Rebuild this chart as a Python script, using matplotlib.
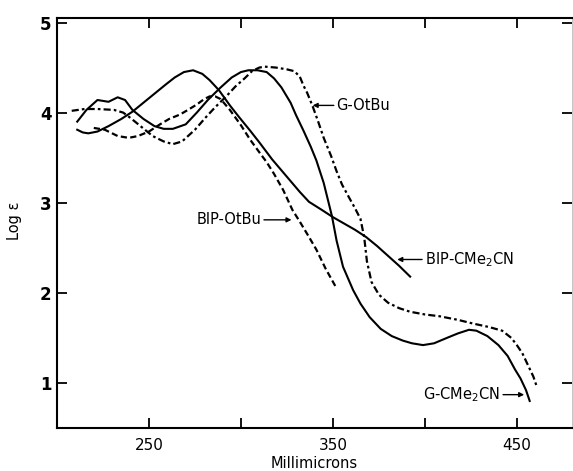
import matplotlib
matplotlib.use("Agg")
import matplotlib.pyplot as plt

# Absorption spectra: wavelength (millimicrons) vs log epsilon
g_otbu_wl = [208, 215, 222, 231, 236, 240, 246, 252, 258, 263, 268, 275, 281, 286,
             292, 297, 302, 306, 310, 313, 319, 325, 329, 332, 334, 336, 339, 342,
             345, 349, 352, 355, 359, 362, 365, 367, 368.5, 371, 375, 380, 386, 392,
             400, 408, 418, 426, 435, 442, 447, 450, 453, 456, 459, 461]
g_otbu_loge = [4.02, 4.04, 4.04, 4.03, 4.00, 3.94, 3.84, 3.74, 3.68, 3.65, 3.68, 3.81,
               3.95, 4.06, 4.18, 4.29, 4.38, 4.46, 4.50, 4.51, 4.50, 4.48, 4.46, 4.40,
               4.30, 4.22, 4.07, 3.90, 3.72, 3.52, 3.35, 3.20, 3.05, 2.94, 2.82, 2.62,
               2.35, 2.12, 1.98, 1.89, 1.83, 1.79, 1.76, 1.74, 1.70, 1.66, 1.62, 1.58,
               1.50, 1.42, 1.33, 1.20, 1.07, 0.95]

g_cme2cn_wl = [211, 216, 222, 228, 233, 237, 241, 247, 253, 258, 263, 270, 276, 282,
               289, 295, 300, 304, 309, 314, 318, 322, 327, 330, 334, 338, 341, 345,
               349.5, 352, 355.5, 361, 365, 370, 376, 382, 388, 393, 399, 405, 412, 418,
               424, 428, 434, 440, 445, 449, 452, 455, 457]
g_cme2cn_loge = [3.90, 4.03, 4.14, 4.12, 4.17, 4.14, 4.03, 3.93, 3.85, 3.82, 3.82, 3.87,
                 4.00, 4.14, 4.28, 4.39, 4.45, 4.47, 4.47, 4.45, 4.38, 4.28, 4.11, 3.97,
                 3.80, 3.62, 3.47, 3.22, 2.85, 2.58, 2.29, 2.03, 1.88, 1.73, 1.60, 1.52,
                 1.47, 1.44, 1.42, 1.44, 1.50, 1.55, 1.59, 1.58, 1.52, 1.42, 1.30, 1.15,
                 1.05, 0.92, 0.80]

bip_cme2cn_wl = [211, 214, 217, 222, 228, 235, 241, 247, 253, 259, 264, 269, 274, 279,
                 283, 288, 294, 299, 305, 310, 317, 322, 327, 332, 337, 344, 350, 356,
                 362, 368, 374, 380, 386, 392]
bip_cme2cn_loge = [3.81, 3.78, 3.77, 3.79, 3.85, 3.93, 4.01, 4.11, 4.21, 4.31, 4.39, 4.45,
                   4.47, 4.43, 4.36, 4.25, 4.08, 3.95, 3.80, 3.67, 3.48, 3.36, 3.24, 3.12,
                   3.01, 2.92, 2.84, 2.77, 2.70, 2.62, 2.52, 2.41, 2.30, 2.18]

bip_otbu_wl = [220, 226, 233, 239, 244, 250, 256, 261, 267, 272, 276, 280, 283, 286,
               289, 294, 300, 305, 310, 314, 318, 323, 328, 332, 337, 341, 346, 352]
bip_otbu_loge = [3.83, 3.81, 3.74, 3.72, 3.74, 3.79, 3.87, 3.93, 3.98, 4.04, 4.09, 4.15,
                 4.18, 4.18, 4.15, 4.03, 3.86, 3.70, 3.56, 3.45, 3.32, 3.14, 2.92, 2.79,
                 2.62, 2.48, 2.27, 2.05]

x_ticks = [250, 300, 350, 400, 450]
x_tick_labels = ["250", "", "350", "", "450"]
y_ticks = [1, 2, 3, 4, 5]
y_tick_labels = ["1", "2", "3", "4", "5"]

plt.rcParams["font.family"] = ["DejaVu Sans"]

fig = plt.figure(figsize=(5.73, 4.71), dpi=100)
ax = fig.add_axes([57 / 573, 43 / 471, 515 / 573, 410 / 471])

ink = "black"
ax.plot(g_otbu_wl, g_otbu_loge, color=ink, lw=1.6, ls=(0, (3.2, 1.4, 1.2, 1.4)))
ax.plot(g_cme2cn_wl, g_cme2cn_loge, color=ink, lw=1.5, ls="-")
ax.plot(bip_cme2cn_wl, bip_cme2cn_loge, color=ink, lw=1.5, ls="-")
ax.plot(bip_otbu_wl, bip_otbu_loge, color=ink, lw=1.6, ls=(0, (2.8, 1.5)))

ax.set_xlim(200, 480)
ax.set_ylim(0.5, 5.05)
ax.set_xticks(x_ticks)
ax.set_xticklabels(x_tick_labels, fontsize=11)
ax.set_yticks(y_ticks)
ax.set_yticklabels(y_tick_labels, fontsize=12, fontweight="bold")
ax.tick_params(axis="both", direction="in", length=7, width=1.3,
               top=True, right=True, colors=ink)
ax.tick_params(axis="x", pad=7)
ax.tick_params(axis="y", pad=4)

for side in ("left", "bottom", "top"):
    ax.spines[side].set_linewidth(1.5)
ax.spines["right"].set_linewidth(0.6)
ax.spines["right"].set_color("#bbbbbb")

ax.set_xlabel("Millimicrons", fontsize=10.5, labelpad=2)
ax.set_ylabel("Log ε", fontsize=10.5)
ax.yaxis.set_label_coords(-0.068, 0.505)

arrow = dict(arrowstyle="-|>", lw=1.0, color=ink, mutation_scale=7,
             shrinkA=0, shrinkB=0)
ax.annotate("G-OtBu", xy=(339, 4.08), xytext=(352, 4.08), fontsize=10.5,
            ha="left", va="center", arrowprops=arrow)
ax.annotate("BIP-OtBu", xy=(327.5, 2.81), xytext=(311, 2.81), fontsize=10.5,
            ha="right", va="center", arrowprops=arrow)
ax.annotate("BIP-CMe$_2$CN", xy=(385, 2.37), xytext=(400, 2.37), fontsize=10.5,
            ha="left", va="center", arrowprops=arrow)
ax.annotate("G-CMe$_2$CN", xy=(454, 0.87), xytext=(441, 0.87), fontsize=10.5,
            ha="right", va="center", arrowprops=arrow)

fig.savefig("out.png", dpi=100)
